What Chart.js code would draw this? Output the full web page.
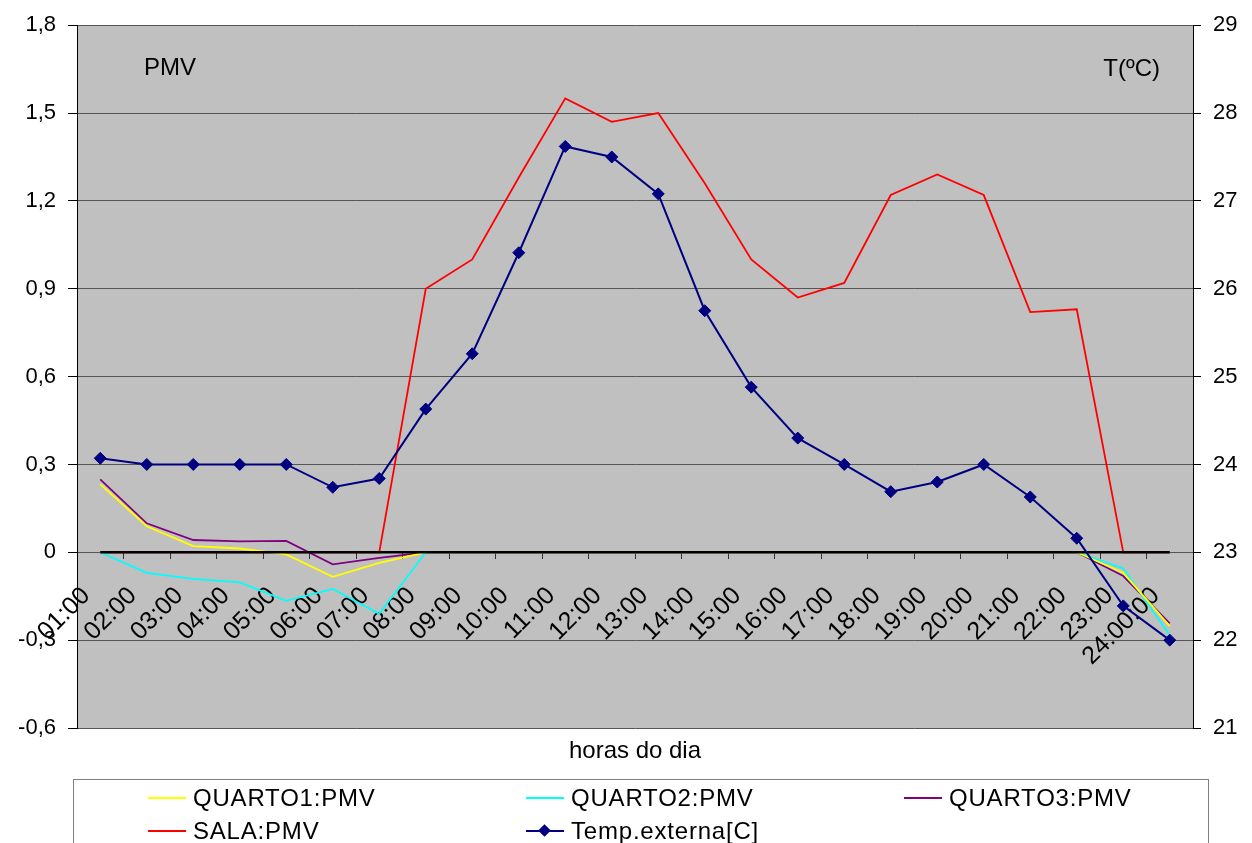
<!DOCTYPE html>
<html>
<head>
<meta charset="utf-8">
<script src="https://cdn.jsdelivr.net/npm/chart.js@4"></script>
<style>
  body { margin: 0; background: #fff; font-family: "Liberation Sans", Arial, sans-serif; }
  #wrap { position: relative; width: 1252px; height: 843px; overflow: hidden; }
  #grafico { position: absolute; left: 0; top: 0; }
  .lbl { position: absolute; font-size: 24px; line-height: 24px; color: #000; white-space: nowrap; }
  #legenda { position: absolute; left: 73px; top: 779px; width: 1136px; height: 90px;
             border: 1px solid #808080; box-sizing: border-box; }
  .item { position: absolute; display: flex; align-items: center; height: 30px;
          font-size: 24px; letter-spacing: 0.8px; color: #000; white-space: nowrap; }
  .marca { position: relative; width: 38px; height: 2px; margin-right: 7px; }
  .losango { position: absolute; left: 14px; top: -4px; width: 9px; height: 9px; transform: rotate(45deg); }
</style>
</head>
<body>
<div id="wrap">
  <canvas id="grafico" width="1252" height="843"></canvas>
  <div class="lbl" style="left:144px; top:55px;">PMV</div>
  <div class="lbl" style="right:92px; top:56px;">T(ºC)</div>
  <div class="lbl" style="left:535px; width:200px; text-align:center; top:738px;">horas do dia</div>
  <div id="legenda"></div>
</div>
<script>
// horas do dia
const horas = ['01:00', '02:00', '03:00', '04:00', '05:00', '06:00', '07:00', '08:00',
               '09:00', '10:00', '11:00', '12:00', '13:00', '14:00', '15:00', '16:00',
               '17:00', '18:00', '19:00', '20:00', '21:00', '22:00', '23:00', '24:00:00'];

// PMV por divisão (eixo esquerdo)
const quarto1 = [0.233, 0.089, 0.021, 0.013, -0.007, -0.084, -0.036, 0, 0, 0, 0, 0,
                 0, 0, 0, 0, 0, 0, 0, 0, 0, 0, -0.07, -0.252];
const quarto2 = [0, -0.07, -0.091, -0.103, -0.166, -0.125, -0.21, 0, 0, 0, 0, 0,
                 0, 0, 0, 0, 0, 0, 0, 0, 0, 0, -0.055, -0.283];
const quarto3 = [0.249, 0.099, 0.042, 0.037, 0.039, -0.041, -0.019, 0, 0, 0, 0, 0,
                 0, 0, 0, 0, 0, 0, 0, 0, 0, 0, -0.081, -0.243];
const sala = [0, 0, 0, 0, 0, 0, 0, 0.9, 1.0, 1.28, 1.55, 1.47,
              1.5, 1.26, 1.0, 0.87, 0.92, 1.22, 1.29, 1.22, 0.82, 0.83, 0, 0];

// temperatura exterior em ºC (eixo direito)
const tempExterna = [24.07, 24.0, 24.0, 24.0, 24.0, 23.74, 23.84, 24.63, 25.26, 26.41, 27.62, 27.5,
                     27.08, 25.75, 24.88, 24.3, 24.0, 23.69, 23.8, 24.0, 23.63, 23.16, 22.39, 22.0];

// eixos
const pmvMin = -0.6, pmvMax = 1.8, pmvPasso = 0.3;
const tMin = 21, tMax = 29, tPasso = 1;

Chart.defaults.font.family = "'Liberation Sans', Arial, sans-serif";
Chart.defaults.font.size = 22;
Chart.defaults.color = '#000';

// fundo cinzento da área do gráfico
const fundo = {
  id: 'fundo',
  beforeDraw(chart) {
    const { ctx, chartArea: a } = chart;
    ctx.save();
    ctx.fillStyle = '#C0C0C0';
    ctx.fillRect(a.left, a.top, a.right - a.left, a.bottom - a.top);
    ctx.restore();
  }
};

// linha preta do eixo das horas em PMV = 0, por cima das séries de PMV
const eixoZero = {
  id: 'eixoZero',
  beforeDatasetDraw(chart, args) {
    if (args.index !== 4) return;
    const { ctx } = chart;
    const sx = chart.scales.x, sy = chart.scales.y;
    const py = sy.getPixelForValue(0);
    ctx.save();
    ctx.strokeStyle = '#000';
    ctx.lineWidth = 2.5;
    ctx.beginPath();
    ctx.moveTo(sx.getPixelForValue(0), py);
    ctx.lineTo(sx.getPixelForValue(horas.length - 1), py);
    ctx.stroke();
    ctx.restore();
  }
};

function serie(label, data, cor) {
  return { label, data, borderColor: cor, backgroundColor: cor, borderWidth: 1.8,
           pointRadius: 0, tension: 0, yAxisID: 'y', order: 1 };
}

const ctx = document.getElementById('grafico').getContext('2d');
const chart = new Chart(ctx, {
  type: 'line',
  data: {
    labels: horas,
    datasets: [
      serie('QUARTO1:PMV', quarto1, '#FFFF00'),
      serie('QUARTO2:PMV', quarto2, '#00FFFF'),
      serie('QUARTO3:PMV', quarto3, '#800080'),
      serie('SALA:PMV', sala, '#FF0000'),
      {
        label: 'Temp.externa[C]', data: tempExterna, yAxisID: 'y1', order: 0,
        borderColor: '#000080', backgroundColor: '#000080', borderWidth: 2, tension: 0,
        pointStyle: 'rectRot', pointRadius: 6, pointBorderWidth: 1
      }
    ]
  },
  options: {
    responsive: false,
    animation: false,
    layout: { padding: { top: 25, bottom: 115, left: 0, right: 0 } },
    plugins: { legend: { display: false }, tooltip: { enabled: false } },
    scales: {
      x: {
        position: { y: 0 },
        offset: true,
        border: { display: false },
        grid: { offset: true, drawOnChartArea: false, drawTicks: true, tickLength: 7, tickColor: '#333' },
        ticks: { autoSkip: false, minRotation: 45, maxRotation: 45, padding: 22,
                 labelOffset: -14, font: { size: 25 } }
      },
      y: {
        position: 'left',
        min: pmvMin, max: pmvMax,
        border: { color: '#000', width: 1 },
        grid: { color: '#555', lineWidth: 1, tickColor: '#000', tickLength: 9 },
        ticks: {
          stepSize: pmvPasso, padding: 12,
          callback: v => {
            const r = Math.round(v * 10) / 10;
            return r === 0 ? '0' : String(r).replace('.', ',');
          }
        },
        afterFit: s => { s.width = 77; }
      },
      y1: {
        position: 'right',
        min: tMin, max: tMax,
        border: { color: '#000', width: 1 },
        grid: { drawOnChartArea: false, tickColor: '#000', tickLength: 8 },
        ticks: { stepSize: tPasso, padding: 12 },
        afterFit: s => { s.width = 59; }
      }
    }
  },
  plugins: [fundo, eixoZero]
});

// legenda em três colunas, gerada a partir das séries
const colunas = [74, 452, 830];
const linhas = [3, 36];
const legenda = document.getElementById('legenda');
chart.data.datasets.forEach((ds, i) => {
  const item = document.createElement('div');
  item.className = 'item';
  item.style.left = colunas[i % 3] + 'px';
  item.style.top = linhas[Math.floor(i / 3)] + 'px';
  const marca = document.createElement('div');
  marca.className = 'marca';
  marca.style.background = ds.borderColor;
  if (ds.pointStyle === 'rectRot') {
    const l = document.createElement('div');
    l.className = 'losango';
    l.style.background = ds.backgroundColor;
    marca.appendChild(l);
  }
  item.appendChild(marca);
  item.appendChild(document.createTextNode(ds.label));
  legenda.appendChild(item);
});
</script>
</body>
</html>
